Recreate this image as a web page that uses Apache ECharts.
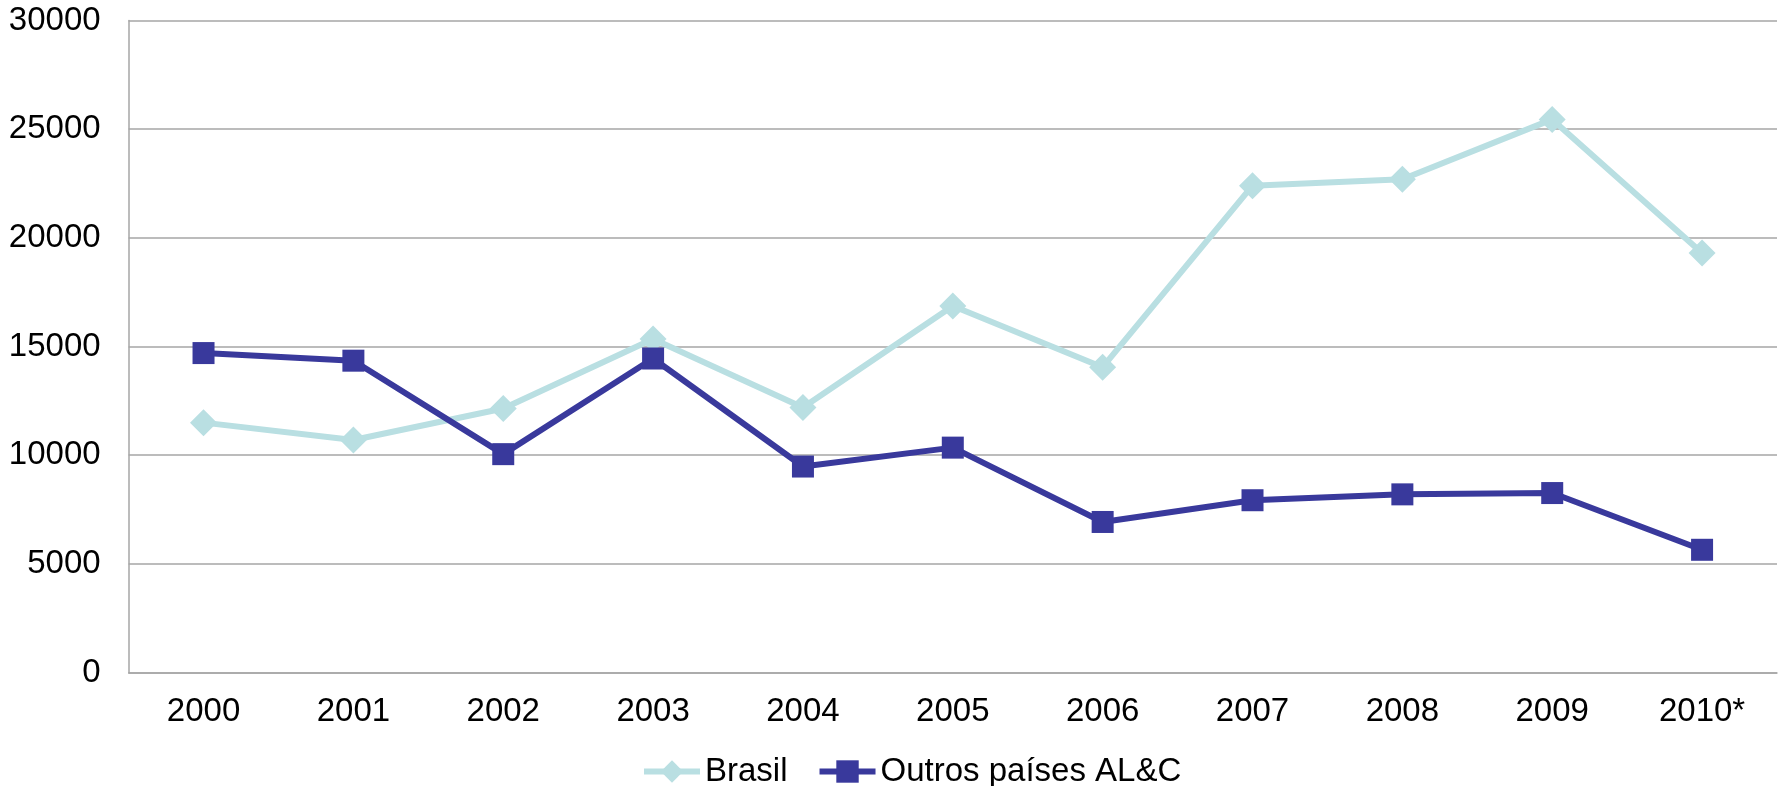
<!DOCTYPE html>
<html><head><meta charset="utf-8">
<script src="https://cdn.jsdelivr.net/npm/echarts@6/dist/echarts.min.js"></script>
<style>html,body{margin:0;padding:0;background:#fff}#c{width:1781px;height:786px}</style>
</head><body><div id="c"></div>
<script>
const categories = ['2000','2001','2002','2003','2004','2005','2006','2007','2008','2009','2010*'];
const brasil = [11500, 10700, 12150, 15350, 12200, 16870, 14050, 22400, 22700, 25450, 19300];
const outros = [14700, 14350, 10050, 14450, 9480, 10350, 6930, 7930, 8200, 8260, 5650];
const seriesNames = ['Brasil', 'Outros países AL&C'];

const cBrasil = '#B9DFE2', cOutros = '#39399C';
const chart = echarts.init(document.getElementById('c'));
const font = 'Liberation Sans, Arial, sans-serif';
chart.setOption({
  animation: false,
  grid: {left: 128.6, right: 4, top: 20.5, bottom: 113.4, containLabel: false},
  legend: {
    data: [
      {name: seriesNames[0], lineStyle: {width: 6, color: cBrasil}},
      {name: seriesNames[1], lineStyle: {width: 6, color: cOutros}}
    ],
    left: 636, top: 750, itemWidth: 56, itemHeight: 28, itemGap: 29,
    textStyle: {fontFamily: font, fontSize: 33, color: '#000'}
  },
  xAxis: {
    type: 'category', data: categories, boundaryGap: true,
    axisLine: {lineStyle: {color: '#A6A6A6', width: 1.5}},
    axisTick: {show: false},
    axisLabel: {fontFamily: font, fontSize: 33, color: '#000', margin: 23}
  },
  yAxis: {
    type: 'value', min: 0, max: 30000, interval: 5000,
    axisLine: {show: true, lineStyle: {color: '#A6A6A6', width: 1.5}},
    axisTick: {show: false},
    splitLine: {lineStyle: {color: '#A6A6A6', width: 1.5}},
    axisLabel: {fontFamily: font, fontSize: 33, color: '#000', margin: 28, formatter: v => String(v)}
  },
  series: [
    {name: seriesNames[0], type: 'line', data: brasil, symbol: 'diamond', symbolSize: 27,
     lineStyle: {color: cBrasil, width: 6}, itemStyle: {color: cBrasil}, z: 2},
    {name: seriesNames[1], type: 'line', data: outros, symbol: 'rect', symbolSize: 22,
     lineStyle: {color: cOutros, width: 6}, itemStyle: {color: cOutros}, z: 3}
  ]
});
</script></body></html>
